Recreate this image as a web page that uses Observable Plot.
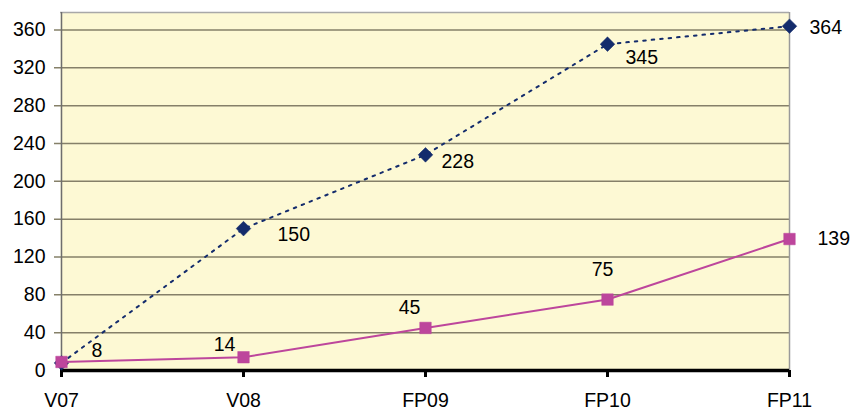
<!DOCTYPE html>
<html>
<head>
<meta charset="utf-8">
<script src="https://cdn.jsdelivr.net/npm/d3@7"></script>
<script src="https://cdn.jsdelivr.net/npm/@observablehq/plot@0.6"></script>
<style>
  html, body { margin: 0; padding: 0; background: #ffffff; }
  #chart svg { display: block; }
</style>
</head>
<body>
<div id="chart"></div>
<script>
const categories = ["V07", "V08", "FP09", "FP10", "FP11"];
const blueValues = [8, 150, 228, 345, 364];
const pinkValues = [9, 14, 45, 75, 139];
const blueLabels = ["8", "150", "228", "345", "364"];
const pinkLabels = [null, "14", "45", "75", "139"];
const yTicks = [0, 40, 80, 120, 160, 200, 240, 280, 320, 360];

// label placement (style only)
const blueOffsets = [[30, -12, "start"], [34, 6, "start"], [16, 7, "start"], [18, 14, "start"], [20, 2, "start"]];
const pinkOffsets = [[0, 0, "start"], [-19, -13, "middle"], [-16, -20, "middle"], [-5, -30, "middle"], [28, 0, "start"]];

const blue = categories.map((c, i) => ({cat: c, v: blueValues[i], label: blueLabels[i], i}));
const pink = categories.map((c, i) => ({cat: c, v: pinkValues[i], label: pinkLabels[i], i}));

const BLUE = "#142c6c";
const PINK = "#bd469c";
const font = "Arial, 'Liberation Sans', sans-serif";
const FS = 19.5;

const labelMarks = [];
blue.forEach((d, i) => {
  const [dx, dy, anchor] = blueOffsets[i];
  labelMarks.push(Plot.text([d], {x: "cat", y: "v", text: "label", dx, dy, textAnchor: anchor, fill: "#000", fontSize: FS}));
});
pink.forEach((d, i) => {
  if (d.label == null) return;
  const [dx, dy, anchor] = pinkOffsets[i];
  labelMarks.push(Plot.text([d], {x: "cat", y: "v", text: "label", dx, dy, textAnchor: anchor, fill: "#000", fontSize: FS}));
});

const chart = Plot.plot({
  width: 851,
  height: 411,
  marginLeft: 60,
  marginRight: 62,
  marginTop: 12,
  marginBottom: 41,
  style: {background: "#ffffff", fontFamily: font, fontSize: FS + "px", color: "#000", overflow: "visible"},
  x: {type: "point", domain: categories, padding: 0, label: null},
  y: {domain: [0, 378.5], label: null},
  marks: [
    Plot.frame({fill: "#fdf9d4", stroke: null}),
    Plot.ruleY(yTicks.slice(1), {stroke: "#858069", strokeWidth: 1.5, insetLeft: -6}),
    Plot.axisY(yTicks, {tickSize: 0, tickPadding: 15, fill: "#000", fontSize: FS, fontFamily: font, label: null}),
    Plot.ruleY([378.5], {stroke: "#a8a8a8", strokeWidth: 1.5}),
    Plot.ruleX([categories[4]], {stroke: "#9a9a9a", strokeWidth: 1.5}),
    Plot.ruleX([categories[0]], {stroke: "#6e6e6e", strokeWidth: 1.5}),
    Plot.axisX({tickSize: 7, tickPadding: 16, stroke: "#000", strokeWidth: 3, fill: "#000", fontSize: FS, fontFamily: font, label: null}),
    Plot.ruleY([0], {stroke: "#000", strokeWidth: 3.5}),
    Plot.line(blue, {x: "cat", y: "v", stroke: BLUE, strokeWidth: 2, strokeDasharray: "2.5,6"}),
    Plot.dot(blue, {x: "cat", y: "v", symbol: "diamond2", r: 6.6, fill: BLUE, stroke: BLUE, strokeWidth: 0.5}),
    Plot.line(pink, {x: "cat", y: "v", stroke: PINK, strokeWidth: 2}),
    Plot.dot(pink, {x: "cat", y: "v", symbol: "square", r: 6.5, fill: PINK, stroke: PINK, strokeWidth: 0.5}),
    ...labelMarks
  ]
});
document.getElementById("chart").appendChild(chart);
</script>
</body>
</html>
